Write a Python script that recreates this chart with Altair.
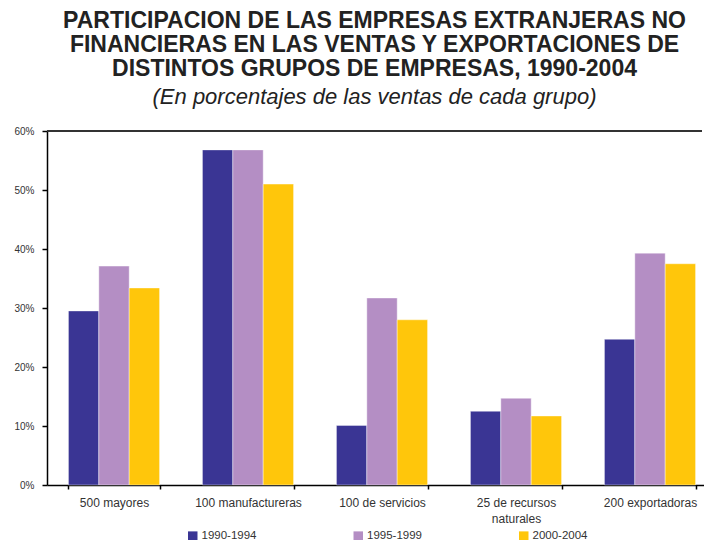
import altair as alt
import pandas as pd

categories = ["500 mayores", "100 manufactureras", "100 de servicios",
              "25 de recursos|naturales", "200 exportadoras"]
periods = ["1990-1994", "1995-1999", "2000-2004"]
v_1990_1994 = [29.5, 56.8, 10.1, 12.5, 24.7]
v_1995_1999 = [37.1, 56.8, 31.7, 14.7, 39.3]
v_2000_2004 = [33.4, 51.0, 28.0, 11.7, 37.5]
colors = ["#3A3594", "#B48EC4", "#FFC60B"]

rows = []
for p, vals in zip(periods, [v_1990_1994, v_1995_1999, v_2000_2004]):
    for c, v in zip(categories, vals):
        rows.append({"grupo": c, "periodo": p, "valor": v})
df = pd.DataFrame(rows)

FONT = "Liberation Sans"

bars = alt.Chart(df).mark_bar(strokeWidth=0.8, strokeOpacity=0.5, stroke="white").encode(
    x=alt.X("grupo:N", sort=categories, title=None,
            scale=alt.Scale(paddingInner=0.32, paddingOuter=0.16, range=[0, 670]),
            axis=alt.Axis(labelExpr="split(datum.label, '|')", labelAngle=0,
                          tickBand="extent", labelFontSize=12, labelColor="#333",
                          labelFont=FONT, labelPadding=8, tickSize=4, tickColor="black",
                          domainColor="black", domainWidth=1.5, tickWidth=1.5,
                          labelLineHeight=16)),
    xOffset=alt.XOffset("periodo:N", sort=periods, scale=alt.Scale(paddingInner=0, paddingOuter=0)),
    y=alt.Y("valor:Q", title=None,
            scale=alt.Scale(domain=[0, 60], nice=False),
            axis=alt.Axis(values=[0, 10, 20, 30, 40, 50, 60], labelExpr="datum.value + '%'",
                          labelFontSize=10, labelColor="#333", labelFont=FONT,
                          tickSize=5, tickColor="black", domainColor="black",
                          domainWidth=1.5, tickWidth=1.5, grid=False, labelPadding=8)),
    color=alt.Color("periodo:N", sort=periods, title=None,
                    scale=alt.Scale(domain=periods, range=colors),
                    legend=alt.Legend(orient="none", legendX=140, legendY=399,
                                      direction="horizontal", symbolType="square",
                                      symbolSize=90, symbolStrokeWidth=0,
                                      labelFontSize=11.5, labelColor="#333", labelFont=FONT,
                                      columnPadding=95.5, symbolOffset=0, labelOffset=3,
                                      padding=0)),
)

top_line = alt.Chart(pd.DataFrame({"y": [60]})).mark_rule(color="#333", strokeWidth=2).encode(
    y="y:Q"
)

chart = alt.layer(bars, top_line).properties(
    width=655, height=354,
    autosize=alt.AutoSizeParams(type="none"),
    padding={"left": 39, "top": 123, "right": 2, "bottom": 55},
    title=alt.TitleParams(
        text=["PARTICIPACION DE LAS EMPRESAS EXTRANJERAS NO",
              "FINANCIERAS EN LAS VENTAS Y EXPORTACIONES DE",
              "DISTINTOS GRUPOS DE EMPRESAS, 1990-2004"],
        subtitle="(En porcentajes de las ventas de cada grupo)",
        font=FONT, fontSize=23, fontWeight="bold", color="#222", lineHeight=24,
        subtitleFont=FONT, subtitleFontSize=22, subtitleFontStyle="italic",
        subtitleColor="#222", subtitlePadding=6,
        anchor="middle", frame="group", offset=18,
    ),
).configure_view(stroke=None)

chart.save("out.html", embed_options={"renderer": "svg", "actions": False})
